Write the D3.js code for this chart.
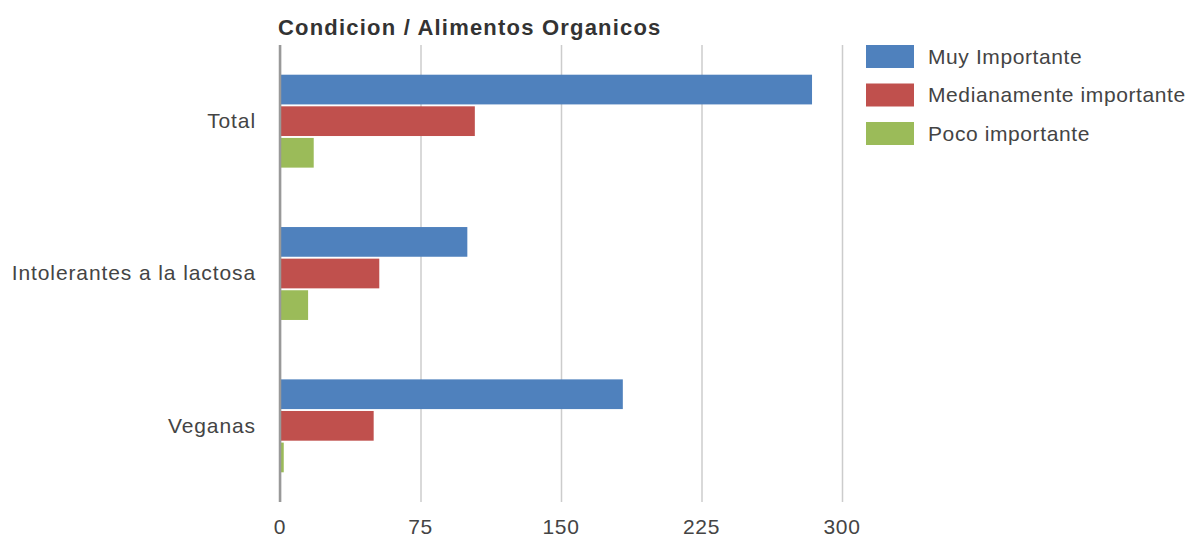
<!DOCTYPE html>
<html>
<head>
<meta charset="utf-8">
<script src="https://cdn.jsdelivr.net/npm/d3@7"></script>
<style>
  html, body { margin: 0; padding: 0; background: #fff; }
  svg { display: block; font-family: "Liberation Sans", Arial, sans-serif; }
</style>
</head>
<body>
<svg id="chart" width="1191" height="538"></svg>
<script>
// Categories, series and axis ticks
const categories = ["Total", "Intolerantes a la lactosa", "Veganas"];
const seriesNames = ["Muy Importante", "Medianamente importante", "Poco importante"];
const muyImportante = [284, 100, 183];
const medianamenteImportante = [104, 53, 50];
const pocoImportante = [18, 15, 2];
const xTicks = [0, 75, 150, 225, 300];
const seriesColors = ["#4f81bd", "#c0504d", "#9bbb59"];

const seriesValues = [muyImportante, medianamenteImportante, pocoImportante];
const rows = categories.map((c, i) => ({
  category: c,
  values: seriesNames.map((s, j) => ({ series: s, value: seriesValues[j][i] }))
}));

const svg = d3.select("#chart");
const plot = { left: 280, right: 842, top: 45, bottom: 502 };
const labelFont = "Liberation Sans, Arial, sans-serif";

const x = d3.scaleLinear().domain([0, 300]).range([plot.left, plot.right]);
const y0 = d3.scaleBand().domain(categories).range([plot.top, plot.bottom])
  .paddingInner(0.39).paddingOuter(0.195);
const y1 = d3.scaleBand().domain(seriesNames).range([0, y0.bandwidth()]).paddingInner(0.06);
const color = d3.scaleOrdinal().domain(seriesNames).range(seriesColors);

// Title
svg.append("text")
  .attr("x", 278).attr("y", 35)
  .attr("font-size", 22).attr("font-weight", "bold").attr("fill", "#333")
  .attr("letter-spacing", 1.2)
  .text("Condicion / Alimentos Organicos");

// Vertical gridlines and bottom tick labels
const xAxis = d3.axisBottom(x).tickValues(xTicks).tickSize(-(plot.bottom - plot.top)).tickPadding(17);
const gx = svg.append("g").attr("transform", `translate(0,${plot.bottom})`).call(xAxis);
gx.select(".domain").remove();
gx.selectAll(".tick line").attr("stroke", "#cccccc").attr("stroke-width", 1.5);
gx.selectAll(".tick text").attr("font-size", 21).attr("fill", "#444")
  .attr("letter-spacing", 0.8).attr("dx", -0.4).attr("font-family", labelFont);

// Bars
const groups = svg.append("g").selectAll("g").data(rows).join("g")
  .attr("transform", d => `translate(0,${y0(d.category)})`);
groups.selectAll("rect").data(d => d.values).join("rect")
  .attr("x", x(0))
  .attr("y", d => y1(d.series))
  .attr("width", d => x(d.value) - x(0))
  .attr("height", y1.bandwidth())
  .attr("fill", d => color(d.series));

// Zero baseline
svg.append("line")
  .attr("x1", x(0)).attr("x2", x(0))
  .attr("y1", plot.top).attr("y2", plot.bottom)
  .attr("stroke", "#999").attr("stroke-width", 2.5);

// Category labels
const yAxis = d3.axisLeft(y0).tickSize(0).tickPadding(24);
const gy = svg.append("g").attr("transform", `translate(${plot.left},0)`).call(yAxis);
gy.select(".domain").remove();
gy.selectAll(".tick text").attr("font-size", 21).attr("fill", "#444")
  .attr("letter-spacing", 0.9).attr("font-family", labelFont);

// Legend
const legend = svg.append("g").attr("transform", "translate(866,45)");
const items = legend.selectAll("g").data(seriesNames).join("g")
  .attr("transform", (d, i) => `translate(0,${i * 38.5})`);
items.append("rect").attr("width", 48).attr("height", 23).attr("fill", d => color(d));
items.append("text").attr("x", 62).attr("y", 11.5).attr("dy", "0.35em")
  .attr("font-size", 21).attr("fill", "#444").attr("letter-spacing", 0.6).text(d => d);
</script>
</body>
</html>
